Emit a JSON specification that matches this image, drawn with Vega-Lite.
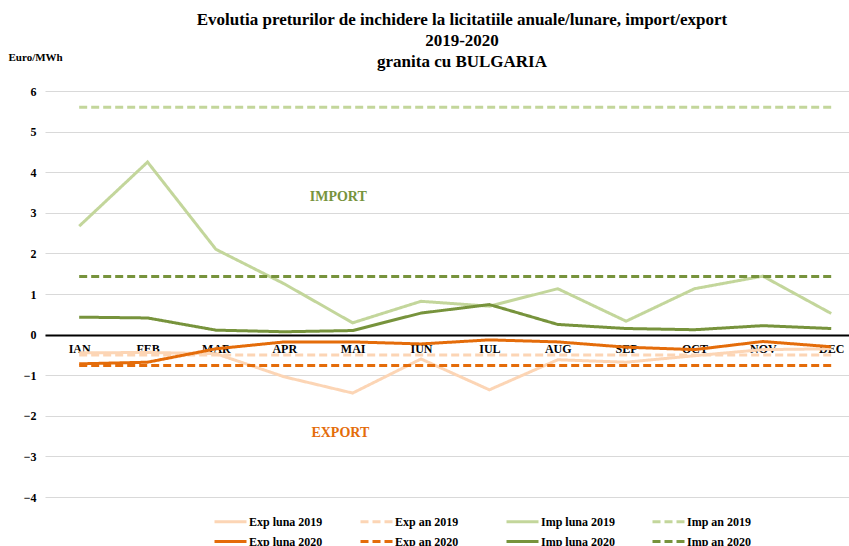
{
  "$schema": "https://vega.github.io/schema/vega-lite/v6.json",
  "autosize": {"type": "none"},
  "padding": {"left": 45, "top": 91, "right": 0, "bottom": 49},
  "width": 804,
  "height": 406,
  "background": "white",
  "config": {
    "view": {"stroke": null},
    "font": "Liberation Serif"
  },
  "title": {
    "text": ["Evolutia preturilor de inchidere la licitatiile anuale/lunare, import/export", "2019-2020", "granita cu BULGARIA"],
    "font": "Liberation Serif",
    "fontSize": 17,
    "fontWeight": "bold",
    "color": "black",
    "anchor": "middle",
    "frame": "group",
    "lineHeight": 21,
    "offset": -20,
    "dx": 15
  },
  "datasets": {
    "series": [
      {"luna":"IAN","m":1,"serie":"Exp luna 2019","v":-0.45},
      {"luna":"FEB","m":2,"serie":"Exp luna 2019","v":-0.44},
      {"luna":"MAR","m":3,"serie":"Exp luna 2019","v":-0.47},
      {"luna":"APR","m":4,"serie":"Exp luna 2019","v":-1.04},
      {"luna":"MAI","m":5,"serie":"Exp luna 2019","v":-1.44},
      {"luna":"IUN","m":6,"serie":"Exp luna 2019","v":-0.6},
      {"luna":"IUL","m":7,"serie":"Exp luna 2019","v":-1.36},
      {"luna":"AUG","m":8,"serie":"Exp luna 2019","v":-0.62},
      {"luna":"SEP","m":9,"serie":"Exp luna 2019","v":-0.68},
      {"luna":"OCT","m":10,"serie":"Exp luna 2019","v":-0.52},
      {"luna":"NOV","m":11,"serie":"Exp luna 2019","v":-0.37},
      {"luna":"DEC","m":12,"serie":"Exp luna 2019","v":-0.35},

      {"luna":"IAN","m":1,"serie":"Exp an 2019","v":-0.5},
      {"luna":"FEB","m":2,"serie":"Exp an 2019","v":-0.5},
      {"luna":"MAR","m":3,"serie":"Exp an 2019","v":-0.5},
      {"luna":"APR","m":4,"serie":"Exp an 2019","v":-0.5},
      {"luna":"MAI","m":5,"serie":"Exp an 2019","v":-0.5},
      {"luna":"IUN","m":6,"serie":"Exp an 2019","v":-0.5},
      {"luna":"IUL","m":7,"serie":"Exp an 2019","v":-0.5},
      {"luna":"AUG","m":8,"serie":"Exp an 2019","v":-0.5},
      {"luna":"SEP","m":9,"serie":"Exp an 2019","v":-0.5},
      {"luna":"OCT","m":10,"serie":"Exp an 2019","v":-0.5},
      {"luna":"NOV","m":11,"serie":"Exp an 2019","v":-0.5},
      {"luna":"DEC","m":12,"serie":"Exp an 2019","v":-0.5},

      {"luna":"IAN","m":1,"serie":"Imp luna 2019","v":2.67},
      {"luna":"FEB","m":2,"serie":"Imp luna 2019","v":4.25},
      {"luna":"MAR","m":3,"serie":"Imp luna 2019","v":2.1},
      {"luna":"APR","m":4,"serie":"Imp luna 2019","v":1.25},
      {"luna":"MAI","m":5,"serie":"Imp luna 2019","v":0.29},
      {"luna":"IUN","m":6,"serie":"Imp luna 2019","v":0.82},
      {"luna":"IUL","m":7,"serie":"Imp luna 2019","v":0.7},
      {"luna":"AUG","m":8,"serie":"Imp luna 2019","v":1.13},
      {"luna":"SEP","m":9,"serie":"Imp luna 2019","v":0.33},
      {"luna":"OCT","m":10,"serie":"Imp luna 2019","v":1.13},
      {"luna":"NOV","m":11,"serie":"Imp luna 2019","v":1.44},
      {"luna":"DEC","m":12,"serie":"Imp luna 2019","v":0.52},

      {"luna":"IAN","m":1,"serie":"Imp an 2019","v":5.6},
      {"luna":"FEB","m":2,"serie":"Imp an 2019","v":5.6},
      {"luna":"MAR","m":3,"serie":"Imp an 2019","v":5.6},
      {"luna":"APR","m":4,"serie":"Imp an 2019","v":5.6},
      {"luna":"MAI","m":5,"serie":"Imp an 2019","v":5.6},
      {"luna":"IUN","m":6,"serie":"Imp an 2019","v":5.6},
      {"luna":"IUL","m":7,"serie":"Imp an 2019","v":5.6},
      {"luna":"AUG","m":8,"serie":"Imp an 2019","v":5.6},
      {"luna":"SEP","m":9,"serie":"Imp an 2019","v":5.6},
      {"luna":"OCT","m":10,"serie":"Imp an 2019","v":5.6},
      {"luna":"NOV","m":11,"serie":"Imp an 2019","v":5.6},
      {"luna":"DEC","m":12,"serie":"Imp an 2019","v":5.6},

      {"luna":"IAN","m":1,"serie":"Exp luna 2020","v":-0.72},
      {"luna":"FEB","m":2,"serie":"Exp luna 2020","v":-0.68},
      {"luna":"MAR","m":3,"serie":"Exp luna 2020","v":-0.35},
      {"luna":"APR","m":4,"serie":"Exp luna 2020","v":-0.18},
      {"luna":"MAI","m":5,"serie":"Exp luna 2020","v":-0.18},
      {"luna":"IUN","m":6,"serie":"Exp luna 2020","v":-0.23},
      {"luna":"IUL","m":7,"serie":"Exp luna 2020","v":-0.13},
      {"luna":"AUG","m":8,"serie":"Exp luna 2020","v":-0.18},
      {"luna":"SEP","m":9,"serie":"Exp luna 2020","v":-0.31},
      {"luna":"OCT","m":10,"serie":"Exp luna 2020","v":-0.37},
      {"luna":"NOV","m":11,"serie":"Exp luna 2020","v":-0.17},
      {"luna":"DEC","m":12,"serie":"Exp luna 2020","v":-0.3},

      {"luna":"IAN","m":1,"serie":"Exp an 2020","v":-0.76},
      {"luna":"FEB","m":2,"serie":"Exp an 2020","v":-0.76},
      {"luna":"MAR","m":3,"serie":"Exp an 2020","v":-0.76},
      {"luna":"APR","m":4,"serie":"Exp an 2020","v":-0.76},
      {"luna":"MAI","m":5,"serie":"Exp an 2020","v":-0.76},
      {"luna":"IUN","m":6,"serie":"Exp an 2020","v":-0.76},
      {"luna":"IUL","m":7,"serie":"Exp an 2020","v":-0.76},
      {"luna":"AUG","m":8,"serie":"Exp an 2020","v":-0.76},
      {"luna":"SEP","m":9,"serie":"Exp an 2020","v":-0.76},
      {"luna":"OCT","m":10,"serie":"Exp an 2020","v":-0.76},
      {"luna":"NOV","m":11,"serie":"Exp an 2020","v":-0.76},
      {"luna":"DEC","m":12,"serie":"Exp an 2020","v":-0.76},

      {"luna":"IAN","m":1,"serie":"Imp luna 2020","v":0.43},
      {"luna":"FEB","m":2,"serie":"Imp luna 2020","v":0.41},
      {"luna":"MAR","m":3,"serie":"Imp luna 2020","v":0.11},
      {"luna":"APR","m":4,"serie":"Imp luna 2020","v":0.07},
      {"luna":"MAI","m":5,"serie":"Imp luna 2020","v":0.1},
      {"luna":"IUN","m":6,"serie":"Imp luna 2020","v":0.53},
      {"luna":"IUL","m":7,"serie":"Imp luna 2020","v":0.74},
      {"luna":"AUG","m":8,"serie":"Imp luna 2020","v":0.25},
      {"luna":"SEP","m":9,"serie":"Imp luna 2020","v":0.15},
      {"luna":"OCT","m":10,"serie":"Imp luna 2020","v":0.12},
      {"luna":"NOV","m":11,"serie":"Imp luna 2020","v":0.22},
      {"luna":"DEC","m":12,"serie":"Imp luna 2020","v":0.15},

      {"luna":"IAN","m":1,"serie":"Imp an 2020","v":1.43},
      {"luna":"FEB","m":2,"serie":"Imp an 2020","v":1.43},
      {"luna":"MAR","m":3,"serie":"Imp an 2020","v":1.43},
      {"luna":"APR","m":4,"serie":"Imp an 2020","v":1.43},
      {"luna":"MAI","m":5,"serie":"Imp an 2020","v":1.43},
      {"luna":"IUN","m":6,"serie":"Imp an 2020","v":1.43},
      {"luna":"IUL","m":7,"serie":"Imp an 2020","v":1.43},
      {"luna":"AUG","m":8,"serie":"Imp an 2020","v":1.43},
      {"luna":"SEP","m":9,"serie":"Imp an 2020","v":1.43},
      {"luna":"OCT","m":10,"serie":"Imp an 2020","v":1.43},
      {"luna":"NOV","m":11,"serie":"Imp an 2020","v":1.43},
      {"luna":"DEC","m":12,"serie":"Imp an 2020","v":1.43}
    ]
  },
  "layer": [
    {
      "data": {"name": "series"},
      "mark": {"type": "line", "strokeWidth": 3},
      "encoding": {
        "x": {
          "field": "m",
          "type": "quantitative",
          "scale": {"domain": [0.5, 12.26], "nice": false, "zero": false},
          "axis": {
            "orient": "bottom",
            "offset": -162,
            "values": [1,2,3,4,5,6,7,8,9,10,11,12],
            "labelExpr": "['IAN','FEB','MAR','APR','MAI','IUN','IUL','AUG','SEP','OCT','NOV','DEC'][datum.value-1]",
            "title": null,
            "grid": false,
            "ticks": false,
            "domain": true,
            "domainColor": "black",
            "domainWidth": 2,
            "labelFont": "Liberation Serif",
            "labelFontWeight": "bold",
            "labelFontSize": 12,
            "labelColor": "black",
            "labelPadding": 8
          }
        },
        "y": {
          "field": "v",
          "type": "quantitative",
          "scale": {"domain": [-4, 6], "nice": false, "zero": false},
          "axis": {
            "values": [-4,-3,-2,-1,0,1,2,3,4,5,6],
            "grid": true,
            "gridColor": "#d9d9d9",
            "gridWidth": 1,
            "domain": false,
            "ticks": false,
            "labelFont": "Liberation Serif",
            "labelFontWeight": "bold",
            "labelFontSize": 12,
            "labelColor": "black",
            "labelPadding": 9,
            "title": "Euro/MWh",
            "titleAngle": 0,
            "titleX": -37,
            "titleY": -34,
            "titleAlign": "left",
            "titleBaseline": "middle",
            "titleFont": "Liberation Serif",
            "titleFontWeight": "bold",
            "titleFontSize": 11,
            "titleColor": "black"
          }
        },
        "color": {
          "field": "serie",
          "type": "nominal",
          "scale": {
            "domain": ["Exp luna 2019","Exp an 2019","Imp luna 2019","Imp an 2019","Exp luna 2020","Exp an 2020","Imp luna 2020","Imp an 2020"],
            "range": ["#fcd5b5","#fcd5b5","#c3d69b","#c3d69b","#e46c0a","#e46c0a","#77933c","#77933c"]
          },
          "legend": {
            "title": null,
            "orient": "none",
            "legendX": 174,
            "legendY": 419,
            "columns": 4,
            "direction": "horizontal",
            "gridAlign": "all",
            "columnPadding": 30,
            "rowPadding": 2,
            "symbolType": "M-1.6,0H1.6",
            "symbolSize": 400,
            "symbolStrokeWidth": 3,
            "labelFont": "Liberation Serif",
            "labelFontWeight": "bold",
            "labelFontSize": 12,
            "labelColor": "black",
            "labelOffset": 7,
            "labelLimit": 200
          }
        },
        "strokeDash": {
          "field": "serie",
          "type": "nominal",
          "scale": {
            "domain": ["Exp luna 2019","Exp an 2019","Imp luna 2019","Imp an 2019","Exp luna 2020","Exp an 2020","Imp luna 2020","Imp an 2020"],
            "range": [[1,0],[8,4],[1,0],[8,4],[1,0],[8,4],[1,0],[8,4]]
          }
        }
      }
    },
    {
      "data": {"values": [{"t": "IMPORT", "m": 4.79, "v": 3.4}]},
      "mark": {"type": "text", "font": "Liberation Serif", "fontWeight": "bold", "fontSize": 14, "color": "#77933c", "align": "center", "baseline": "middle"},
      "encoding": {
        "x": {"field": "m", "type": "quantitative"},
        "y": {"field": "v", "type": "quantitative"},
        "text": {"field": "t"}
      }
    },
    {
      "data": {"values": [{"t": "EXPORT", "m": 4.82, "v": -2.42}]},
      "mark": {"type": "text", "font": "Liberation Serif", "fontWeight": "bold", "fontSize": 14, "color": "#e46c0a", "align": "center", "baseline": "middle"},
      "encoding": {
        "x": {"field": "m", "type": "quantitative"},
        "y": {"field": "v", "type": "quantitative"},
        "text": {"field": "t"}
      }
    }
  ]
}
